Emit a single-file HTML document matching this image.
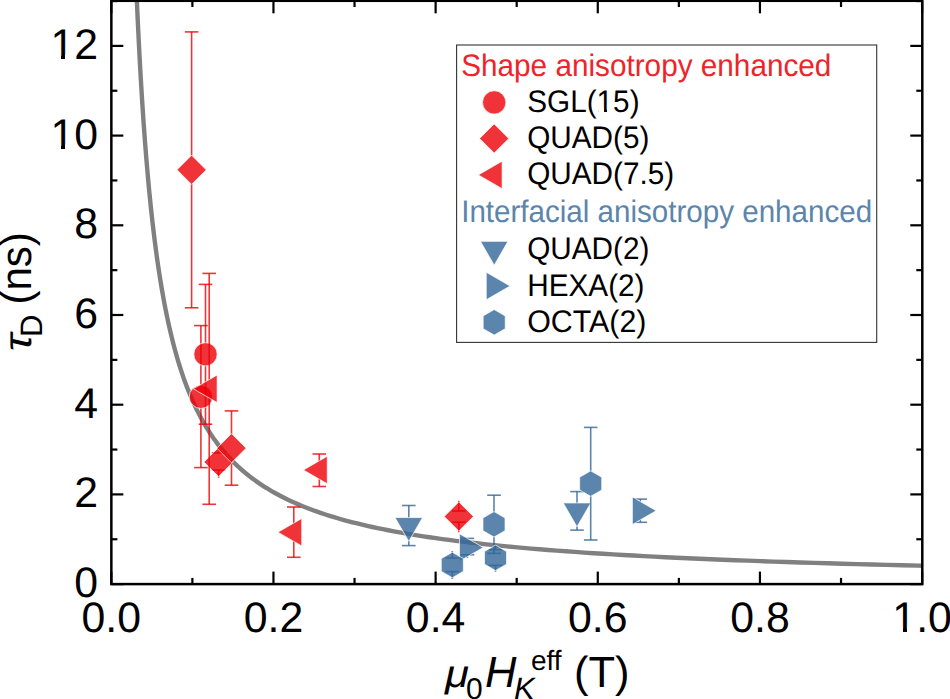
<!DOCTYPE html>
<html><head><meta charset="utf-8"><style>
html,body{margin:0;padding:0;background:#fff;width:950px;height:699px;overflow:hidden}
svg{display:block}
text{font-family:"Liberation Sans",sans-serif}
</style></head><body>
<svg width="950" height="699" viewBox="0 0 950 699">
<rect width="950" height="699" fill="#fff"/>
<defs><clipPath id="pc"><rect x="111.3" y="0" width="811" height="584"/></clipPath></defs>
<path d="M136.29,-12.40 L136.54,-6.50 L136.80,-0.65 L137.05,5.14 L137.31,10.87 L137.57,16.55 L137.83,22.17 L138.10,27.73 L138.37,33.24 L138.64,38.69 L138.91,44.09 L139.19,49.44 L139.46,54.73 L139.75,59.97 L140.03,65.16 L140.32,70.30 L140.61,75.39 L140.90,80.42 L141.20,85.41 L141.50,90.35 L141.80,95.24 L142.10,100.08 L142.41,104.87 L142.72,109.61 L143.04,114.31 L143.35,118.96 L143.67,123.57 L144.00,128.13 L144.33,132.64 L144.66,137.11 L144.99,141.54 L145.33,145.92 L145.67,150.26 L146.01,154.55 L146.36,158.81 L146.71,163.02 L147.06,167.19 L147.42,171.32 L147.78,175.40 L148.15,179.45 L148.51,183.46 L148.89,187.42 L149.26,191.35 L149.64,195.24 L150.02,199.09 L150.41,202.90 L150.80,206.67 L151.20,210.41 L151.60,214.11 L152.00,217.77 L152.41,221.40 L152.82,224.99 L153.23,228.55 L153.65,232.07 L154.08,235.55 L154.50,239.01 L154.94,242.42 L155.37,245.80 L155.81,249.15 L156.26,252.47 L156.71,255.75 L157.16,259.01 L157.62,262.22 L158.08,265.41 L158.55,268.57 L159.02,271.69 L159.50,274.78 L159.98,277.85 L160.47,280.88 L160.96,283.88 L161.46,286.85 L161.96,289.80 L162.47,292.71 L162.98,295.59 L163.49,298.45 L164.02,301.28 L164.54,304.08 L165.08,306.85 L165.61,309.60 L166.16,312.31 L166.71,315.01 L167.26,317.67 L167.82,320.31 L168.38,322.92 L168.96,325.51 L169.53,328.07 L170.11,330.60 L170.70,333.11 L171.30,335.60 L171.90,338.06 L172.50,340.49 L173.11,342.90 L173.73,345.29 L174.36,347.66 L174.99,350.00 L175.62,352.32 L176.27,354.61 L176.92,356.88 L177.57,359.13 L178.24,361.36 L178.91,363.57 L179.58,365.75 L180.26,367.91 L180.95,370.05 L181.65,372.17 L182.35,374.27 L183.06,376.35 L183.78,378.40 L184.51,380.44 L185.24,382.46 L185.98,384.45 L186.73,386.43 L187.48,388.39 L188.24,390.32 L189.01,392.24 L189.79,394.14 L190.57,396.02 L191.37,397.89 L192.17,399.73 L192.98,401.55 L193.79,403.36 L194.62,405.15 L195.45,406.92 L196.29,408.68 L197.14,410.41 L198.00,412.13 L198.87,413.84 L199.74,415.52 L200.63,417.19 L201.52,418.84 L202.42,420.48 L203.33,422.10 L204.25,423.70 L205.18,425.29 L206.12,426.86 L207.07,428.42 L208.03,429.96 L209.00,431.49 L209.97,433.00 L210.96,434.50 L211.96,435.98 L212.96,437.44 L213.98,438.90 L215.01,440.33 L216.04,441.76 L217.09,443.17 L218.15,444.56 L219.22,445.94 L220.30,447.31 L221.39,448.67 L222.49,450.01 L223.60,451.33 L224.72,452.65 L225.86,453.95 L227.00,455.24 L228.16,456.51 L229.33,457.78 L230.51,459.03 L231.70,460.27 L232.90,461.49 L234.12,462.71 L235.35,463.91 L236.59,465.10 L237.84,466.28 L239.11,467.44 L240.38,468.60 L241.67,469.74 L242.98,470.87 L244.30,472.00 L245.63,473.11 L246.97,474.20 L248.33,475.29 L249.70,476.37 L251.08,477.44 L252.48,478.49 L253.89,479.54 L255.32,480.57 L256.76,481.60 L258.21,482.61 L259.68,483.62 L261.16,484.61 L262.66,485.60 L264.17,486.57 L265.70,487.54 L267.25,488.49 L268.81,489.44 L270.38,490.38 L271.97,491.31 L273.58,492.23 L276.83,494.03 L280.14,495.79 L283.51,497.52 L286.96,499.22 L290.47,500.89 L294.05,502.52 L297.71,504.12 L301.44,505.69 L305.24,507.22 L309.12,508.73 L313.07,510.21 L317.11,511.66 L321.23,513.08 L325.42,514.47 L329.71,515.84 L334.08,517.17 L338.53,518.49 L343.08,519.77 L347.71,521.03 L352.44,522.27 L357.26,523.48 L362.18,524.67 L367.20,525.84 L372.32,526.98 L377.54,528.10 L382.86,529.20 L388.29,530.27 L393.83,531.33 L399.48,532.36 L405.25,533.38 L411.13,534.37 L417.12,535.35 L423.24,536.30 L429.48,537.24 L435.84,538.16 L442.33,539.06 L448.95,539.94 L455.71,540.81 L462.59,541.66 L469.62,542.49 L476.79,543.31 L484.10,544.11 L491.55,544.89 L499.16,545.66 L506.91,546.41 L514.83,547.15 L522.90,547.88 L531.13,548.59 L539.53,549.28 L548.09,549.97 L556.83,550.64 L565.74,551.29 L574.83,551.93 L584.10,552.57 L593.55,553.18 L603.20,553.79 L613.03,554.38 L623.07,554.97 L633.30,555.54 L643.74,556.10 L654.39,556.65 L665.26,557.19 L676.33,557.71 L687.64,558.23 L699.16,558.74 L710.92,559.24 L722.91,559.72 L735.14,560.20 L747.62,560.67 L760.35,561.13 L773.33,561.58 L786.57,562.02 L800.07,562.45 L813.85,562.88 L827.90,563.29 L842.23,563.70 L856.85,564.10 L871.76,564.49 L886.97,564.88 L902.48,565.26 L918.31,565.63 L922.10,565.71" fill="none" stroke="#808080" stroke-width="4.4" clip-path="url(#pc)"/>
<line x1="205.50" y1="284.40" x2="205.50" y2="343.10" stroke="rgb(236,0,6)" stroke-opacity="0.8" stroke-width="1.6"/>
<line x1="205.50" y1="365.50" x2="205.50" y2="424.20" stroke="rgb(236,0,6)" stroke-opacity="0.8" stroke-width="1.6"/>
<line x1="198.70" y1="284.40" x2="212.30" y2="284.40" stroke="rgb(236,0,6)" stroke-opacity="0.8" stroke-width="1.6"/>
<line x1="198.70" y1="424.20" x2="212.30" y2="424.20" stroke="rgb(236,0,6)" stroke-opacity="0.8" stroke-width="1.6"/>
<line x1="200.90" y1="325.60" x2="200.90" y2="385.60" stroke="rgb(236,0,6)" stroke-opacity="0.8" stroke-width="1.6"/>
<line x1="200.90" y1="408.00" x2="200.90" y2="467.60" stroke="rgb(236,0,6)" stroke-opacity="0.8" stroke-width="1.6"/>
<line x1="194.10" y1="325.60" x2="207.70" y2="325.60" stroke="rgb(236,0,6)" stroke-opacity="0.8" stroke-width="1.6"/>
<line x1="194.10" y1="467.60" x2="207.70" y2="467.60" stroke="rgb(236,0,6)" stroke-opacity="0.8" stroke-width="1.6"/>
<circle cx="205.50" cy="354.30" r="11.65" fill="rgb(236,0,6)" fill-opacity="0.8" stroke="#fff" stroke-opacity="0.9" stroke-width="0.8"/>
<circle cx="200.90" cy="396.80" r="11.65" fill="rgb(236,0,6)" fill-opacity="0.8" stroke="#fff" stroke-opacity="0.9" stroke-width="0.8"/>
<line x1="191.60" y1="31.90" x2="191.60" y2="155.80" stroke="rgb(236,0,6)" stroke-opacity="0.8" stroke-width="1.6"/>
<line x1="191.60" y1="183.80" x2="191.60" y2="307.80" stroke="rgb(236,0,6)" stroke-opacity="0.8" stroke-width="1.6"/>
<line x1="184.80" y1="31.90" x2="198.40" y2="31.90" stroke="rgb(236,0,6)" stroke-opacity="0.8" stroke-width="1.6"/>
<line x1="184.80" y1="307.80" x2="198.40" y2="307.80" stroke="rgb(236,0,6)" stroke-opacity="0.8" stroke-width="1.6"/>
<line x1="218.60" y1="446.20" x2="218.60" y2="452.90" stroke="rgb(236,0,6)" stroke-opacity="0.8" stroke-width="1.6"/>
<line x1="218.60" y1="470.00" x2="218.60" y2="477.80" stroke="rgb(236,0,6)" stroke-opacity="0.8" stroke-width="1.6"/>
<line x1="211.80" y1="452.90" x2="225.40" y2="452.90" stroke="rgb(236,0,6)" stroke-opacity="0.8" stroke-width="1.6"/>
<line x1="211.80" y1="470.00" x2="225.40" y2="470.00" stroke="rgb(236,0,6)" stroke-opacity="0.8" stroke-width="1.6"/>
<line x1="231.50" y1="410.90" x2="231.50" y2="434.20" stroke="rgb(236,0,6)" stroke-opacity="0.8" stroke-width="1.6"/>
<line x1="231.50" y1="462.20" x2="231.50" y2="485.20" stroke="rgb(236,0,6)" stroke-opacity="0.8" stroke-width="1.6"/>
<line x1="224.70" y1="410.90" x2="238.30" y2="410.90" stroke="rgb(236,0,6)" stroke-opacity="0.8" stroke-width="1.6"/>
<line x1="224.70" y1="485.20" x2="238.30" y2="485.20" stroke="rgb(236,0,6)" stroke-opacity="0.8" stroke-width="1.6"/>
<line x1="458.80" y1="500.70" x2="458.80" y2="511.00" stroke="rgb(236,0,6)" stroke-opacity="0.8" stroke-width="1.6"/>
<line x1="458.80" y1="522.20" x2="458.80" y2="532.30" stroke="rgb(236,0,6)" stroke-opacity="0.8" stroke-width="1.6"/>
<line x1="452.00" y1="511.00" x2="465.60" y2="511.00" stroke="rgb(236,0,6)" stroke-opacity="0.8" stroke-width="1.6"/>
<line x1="452.00" y1="522.20" x2="465.60" y2="522.20" stroke="rgb(236,0,6)" stroke-opacity="0.8" stroke-width="1.6"/>
<polygon points="191.60,155.20 206.20,169.80 191.60,184.40 177.00,169.80" fill="rgb(236,0,6)" fill-opacity="0.8" stroke="#fff" stroke-opacity="0.9" stroke-width="0.8"/>
<polygon points="218.60,447.40 233.20,462.00 218.60,476.60 204.00,462.00" fill="rgb(236,0,6)" fill-opacity="0.8" stroke="#fff" stroke-opacity="0.9" stroke-width="0.8"/>
<polygon points="231.50,433.60 246.10,448.20 231.50,462.80 216.90,448.20" fill="rgb(236,0,6)" fill-opacity="0.8" stroke="#fff" stroke-opacity="0.9" stroke-width="0.8"/>
<polygon points="458.80,501.90 473.40,516.50 458.80,531.10 444.20,516.50" fill="rgb(236,0,6)" fill-opacity="0.8" stroke="#fff" stroke-opacity="0.9" stroke-width="0.8"/>
<line x1="209.20" y1="273.40" x2="209.20" y2="380.15" stroke="rgb(236,0,6)" stroke-opacity="0.8" stroke-width="1.6"/>
<line x1="209.20" y1="397.45" x2="209.20" y2="504.30" stroke="rgb(236,0,6)" stroke-opacity="0.8" stroke-width="1.6"/>
<line x1="202.40" y1="273.40" x2="216.00" y2="273.40" stroke="rgb(236,0,6)" stroke-opacity="0.8" stroke-width="1.6"/>
<line x1="202.40" y1="504.30" x2="216.00" y2="504.30" stroke="rgb(236,0,6)" stroke-opacity="0.8" stroke-width="1.6"/>
<line x1="293.80" y1="507.00" x2="293.80" y2="523.55" stroke="rgb(236,0,6)" stroke-opacity="0.8" stroke-width="1.6"/>
<line x1="293.80" y1="540.86" x2="293.80" y2="557.30" stroke="rgb(236,0,6)" stroke-opacity="0.8" stroke-width="1.6"/>
<line x1="287.00" y1="507.00" x2="300.60" y2="507.00" stroke="rgb(236,0,6)" stroke-opacity="0.8" stroke-width="1.6"/>
<line x1="287.00" y1="557.30" x2="300.60" y2="557.30" stroke="rgb(236,0,6)" stroke-opacity="0.8" stroke-width="1.6"/>
<line x1="319.30" y1="454.00" x2="319.30" y2="461.35" stroke="rgb(236,0,6)" stroke-opacity="0.8" stroke-width="1.6"/>
<line x1="319.30" y1="478.65" x2="319.30" y2="486.50" stroke="rgb(236,0,6)" stroke-opacity="0.8" stroke-width="1.6"/>
<line x1="312.50" y1="454.00" x2="326.10" y2="454.00" stroke="rgb(236,0,6)" stroke-opacity="0.8" stroke-width="1.6"/>
<line x1="312.50" y1="486.50" x2="326.10" y2="486.50" stroke="rgb(236,0,6)" stroke-opacity="0.8" stroke-width="1.6"/>
<polygon points="193.30,388.80 217.15,375.03 217.15,402.57" fill="rgb(236,0,6)" fill-opacity="0.8" stroke="#fff" stroke-opacity="0.9" stroke-width="0.8"/>
<polygon points="277.90,532.20 301.75,518.43 301.75,545.97" fill="rgb(236,0,6)" fill-opacity="0.8" stroke="#fff" stroke-opacity="0.9" stroke-width="0.8"/>
<polygon points="303.40,470.00 327.25,456.23 327.25,483.77" fill="rgb(236,0,6)" fill-opacity="0.8" stroke="#fff" stroke-opacity="0.9" stroke-width="0.8"/>
<line x1="408.80" y1="505.50" x2="408.80" y2="518.00" stroke="rgb(50,103,151)" stroke-opacity="0.8" stroke-width="1.6"/>
<line x1="408.80" y1="540.50" x2="408.80" y2="545.60" stroke="rgb(50,103,151)" stroke-opacity="0.8" stroke-width="1.6"/>
<line x1="402.00" y1="505.50" x2="415.60" y2="505.50" stroke="rgb(50,103,151)" stroke-opacity="0.8" stroke-width="1.6"/>
<line x1="402.00" y1="545.60" x2="415.60" y2="545.60" stroke="rgb(50,103,151)" stroke-opacity="0.8" stroke-width="1.6"/>
<line x1="577.00" y1="491.60" x2="577.00" y2="503.40" stroke="rgb(50,103,151)" stroke-opacity="0.8" stroke-width="1.6"/>
<line x1="577.00" y1="525.90" x2="577.00" y2="530.10" stroke="rgb(50,103,151)" stroke-opacity="0.8" stroke-width="1.6"/>
<line x1="570.20" y1="491.60" x2="583.80" y2="491.60" stroke="rgb(50,103,151)" stroke-opacity="0.8" stroke-width="1.6"/>
<line x1="570.20" y1="530.10" x2="583.80" y2="530.10" stroke="rgb(50,103,151)" stroke-opacity="0.8" stroke-width="1.6"/>
<polygon points="408.80,541.40 395.03,517.55 422.57,517.55" fill="rgb(50,103,151)" fill-opacity="0.8" stroke="#fff" stroke-opacity="0.9" stroke-width="0.8"/>
<polygon points="577.00,526.80 563.23,502.95 590.77,502.95" fill="rgb(50,103,151)" fill-opacity="0.8" stroke="#fff" stroke-opacity="0.9" stroke-width="0.8"/>
<line x1="467.40" y1="538.40" x2="467.40" y2="538.85" stroke="rgb(50,103,151)" stroke-opacity="0.8" stroke-width="1.6"/>
<line x1="467.40" y1="554.80" x2="467.40" y2="557.95" stroke="rgb(50,103,151)" stroke-opacity="0.8" stroke-width="1.6"/>
<line x1="460.60" y1="538.40" x2="474.20" y2="538.40" stroke="rgb(50,103,151)" stroke-opacity="0.8" stroke-width="1.6"/>
<line x1="460.60" y1="554.80" x2="474.20" y2="554.80" stroke="rgb(50,103,151)" stroke-opacity="0.8" stroke-width="1.6"/>
<line x1="640.30" y1="499.10" x2="640.30" y2="502.05" stroke="rgb(50,103,151)" stroke-opacity="0.8" stroke-width="1.6"/>
<line x1="640.30" y1="519.36" x2="640.30" y2="522.30" stroke="rgb(50,103,151)" stroke-opacity="0.8" stroke-width="1.6"/>
<line x1="633.50" y1="499.10" x2="647.10" y2="499.10" stroke="rgb(50,103,151)" stroke-opacity="0.8" stroke-width="1.6"/>
<line x1="633.50" y1="522.30" x2="647.10" y2="522.30" stroke="rgb(50,103,151)" stroke-opacity="0.8" stroke-width="1.6"/>
<polygon points="483.30,547.50 459.45,561.27 459.45,533.73" fill="rgb(50,103,151)" fill-opacity="0.8" stroke="#fff" stroke-opacity="0.9" stroke-width="0.8"/>
<polygon points="656.20,510.70 632.35,524.47 632.35,496.93" fill="rgb(50,103,151)" fill-opacity="0.8" stroke="#fff" stroke-opacity="0.9" stroke-width="0.8"/>
<line x1="452.30" y1="551.00" x2="452.30" y2="558.00" stroke="rgb(50,103,151)" stroke-opacity="0.8" stroke-width="1.6"/>
<line x1="452.30" y1="571.60" x2="452.30" y2="579.00" stroke="rgb(50,103,151)" stroke-opacity="0.8" stroke-width="1.6"/>
<line x1="445.50" y1="558.00" x2="459.10" y2="558.00" stroke="rgb(50,103,151)" stroke-opacity="0.8" stroke-width="1.6"/>
<line x1="445.50" y1="571.60" x2="459.10" y2="571.60" stroke="rgb(50,103,151)" stroke-opacity="0.8" stroke-width="1.6"/>
<line x1="494.00" y1="495.20" x2="494.00" y2="512.10" stroke="rgb(50,103,151)" stroke-opacity="0.8" stroke-width="1.6"/>
<line x1="494.00" y1="536.50" x2="494.00" y2="553.40" stroke="rgb(50,103,151)" stroke-opacity="0.8" stroke-width="1.6"/>
<line x1="487.20" y1="495.20" x2="500.80" y2="495.20" stroke="rgb(50,103,151)" stroke-opacity="0.8" stroke-width="1.6"/>
<line x1="487.20" y1="553.40" x2="500.80" y2="553.40" stroke="rgb(50,103,151)" stroke-opacity="0.8" stroke-width="1.6"/>
<line x1="495.50" y1="543.80" x2="495.50" y2="549.70" stroke="rgb(50,103,151)" stroke-opacity="0.8" stroke-width="1.6"/>
<line x1="495.50" y1="565.40" x2="495.50" y2="571.80" stroke="rgb(50,103,151)" stroke-opacity="0.8" stroke-width="1.6"/>
<line x1="488.70" y1="549.70" x2="502.30" y2="549.70" stroke="rgb(50,103,151)" stroke-opacity="0.8" stroke-width="1.6"/>
<line x1="488.70" y1="565.40" x2="502.30" y2="565.40" stroke="rgb(50,103,151)" stroke-opacity="0.8" stroke-width="1.6"/>
<line x1="590.70" y1="427.40" x2="590.70" y2="471.40" stroke="rgb(50,103,151)" stroke-opacity="0.8" stroke-width="1.6"/>
<line x1="590.70" y1="495.80" x2="590.70" y2="540.00" stroke="rgb(50,103,151)" stroke-opacity="0.8" stroke-width="1.6"/>
<line x1="583.90" y1="427.40" x2="597.50" y2="427.40" stroke="rgb(50,103,151)" stroke-opacity="0.8" stroke-width="1.6"/>
<line x1="583.90" y1="540.00" x2="597.50" y2="540.00" stroke="rgb(50,103,151)" stroke-opacity="0.8" stroke-width="1.6"/>
<polygon points="452.30,552.25 463.34,558.62 463.34,571.38 452.30,577.75 441.26,571.38 441.26,558.62" fill="rgb(50,103,151)" fill-opacity="0.8" stroke="#fff" stroke-opacity="0.9" stroke-width="0.8"/>
<polygon points="494.00,511.55 505.04,517.92 505.04,530.67 494.00,537.05 482.96,530.67 482.96,517.92" fill="rgb(50,103,151)" fill-opacity="0.8" stroke="#fff" stroke-opacity="0.9" stroke-width="0.8"/>
<polygon points="495.50,545.05 506.54,551.42 506.54,564.17 495.50,570.55 484.46,564.17 484.46,551.42" fill="rgb(50,103,151)" fill-opacity="0.8" stroke="#fff" stroke-opacity="0.9" stroke-width="0.8"/>
<polygon points="590.70,470.85 601.74,477.23 601.74,489.98 590.70,496.35 579.66,489.98 579.66,477.23" fill="rgb(50,103,151)" fill-opacity="0.8" stroke="#fff" stroke-opacity="0.9" stroke-width="0.8"/>
<rect x="111.35" y="0.8" width="810.95" height="583.3" fill="none" stroke="#000" stroke-width="2.5"/>
<g stroke="#000" stroke-width="2.2">
<line x1="111.30" y1="584.1" x2="111.30" y2="571.60"/>
<line x1="111.30" y1="0.8" x2="111.30" y2="13.30"/>
<line x1="192.38" y1="584.1" x2="192.38" y2="577.90"/>
<line x1="192.38" y1="0.8" x2="192.38" y2="7.00"/>
<line x1="273.46" y1="584.1" x2="273.46" y2="571.60"/>
<line x1="273.46" y1="0.8" x2="273.46" y2="13.30"/>
<line x1="354.54" y1="584.1" x2="354.54" y2="577.90"/>
<line x1="354.54" y1="0.8" x2="354.54" y2="7.00"/>
<line x1="435.62" y1="584.1" x2="435.62" y2="571.60"/>
<line x1="435.62" y1="0.8" x2="435.62" y2="13.30"/>
<line x1="516.70" y1="584.1" x2="516.70" y2="577.90"/>
<line x1="516.70" y1="0.8" x2="516.70" y2="7.00"/>
<line x1="597.78" y1="584.1" x2="597.78" y2="571.60"/>
<line x1="597.78" y1="0.8" x2="597.78" y2="13.30"/>
<line x1="678.86" y1="584.1" x2="678.86" y2="577.90"/>
<line x1="678.86" y1="0.8" x2="678.86" y2="7.00"/>
<line x1="759.94" y1="584.1" x2="759.94" y2="571.60"/>
<line x1="759.94" y1="0.8" x2="759.94" y2="13.30"/>
<line x1="841.02" y1="584.1" x2="841.02" y2="577.90"/>
<line x1="841.02" y1="0.8" x2="841.02" y2="7.00"/>
<line x1="922.10" y1="584.1" x2="922.10" y2="571.60"/>
<line x1="922.10" y1="0.8" x2="922.10" y2="13.30"/>
<line x1="111.35" y1="584.10" x2="123.35" y2="584.10"/>
<line x1="922.3" y1="584.10" x2="910.30" y2="584.10"/>
<line x1="111.35" y1="539.25" x2="117.35" y2="539.25"/>
<line x1="922.3" y1="539.25" x2="916.30" y2="539.25"/>
<line x1="111.35" y1="494.40" x2="123.35" y2="494.40"/>
<line x1="922.3" y1="494.40" x2="910.30" y2="494.40"/>
<line x1="111.35" y1="449.55" x2="117.35" y2="449.55"/>
<line x1="922.3" y1="449.55" x2="916.30" y2="449.55"/>
<line x1="111.35" y1="404.70" x2="123.35" y2="404.70"/>
<line x1="922.3" y1="404.70" x2="910.30" y2="404.70"/>
<line x1="111.35" y1="359.85" x2="117.35" y2="359.85"/>
<line x1="922.3" y1="359.85" x2="916.30" y2="359.85"/>
<line x1="111.35" y1="315.00" x2="123.35" y2="315.00"/>
<line x1="922.3" y1="315.00" x2="910.30" y2="315.00"/>
<line x1="111.35" y1="270.15" x2="117.35" y2="270.15"/>
<line x1="922.3" y1="270.15" x2="916.30" y2="270.15"/>
<line x1="111.35" y1="225.30" x2="123.35" y2="225.30"/>
<line x1="922.3" y1="225.30" x2="910.30" y2="225.30"/>
<line x1="111.35" y1="180.45" x2="117.35" y2="180.45"/>
<line x1="922.3" y1="180.45" x2="916.30" y2="180.45"/>
<line x1="111.35" y1="135.60" x2="123.35" y2="135.60"/>
<line x1="922.3" y1="135.60" x2="910.30" y2="135.60"/>
<line x1="111.35" y1="90.75" x2="117.35" y2="90.75"/>
<line x1="922.3" y1="90.75" x2="916.30" y2="90.75"/>
<line x1="111.35" y1="45.90" x2="123.35" y2="45.90"/>
<line x1="922.3" y1="45.90" x2="910.30" y2="45.90"/>
<line x1="111.35" y1="1.05" x2="117.35" y2="1.05"/>
<line x1="922.3" y1="1.05" x2="916.30" y2="1.05"/>
</g>
<g font-family="Liberation Sans" text-rendering="geometricPrecision" font-size="42.8" fill="#000">
<text x="98.0" y="597.10" text-anchor="end">0</text>
<text x="98.0" y="507.40" text-anchor="end">2</text>
<text x="98.0" y="417.70" text-anchor="end">4</text>
<text x="98.0" y="328.00" text-anchor="end">6</text>
<text x="98.0" y="238.30" text-anchor="end">8</text>
<text x="98.0" y="148.60" text-anchor="end">10</text>
<text x="98.0" y="58.90" text-anchor="end">12</text>
<text x="111.30" y="631.5" text-anchor="middle">0.0</text>
<text x="273.46" y="631.5" text-anchor="middle">0.2</text>
<text x="435.62" y="631.5" text-anchor="middle">0.4</text>
<text x="597.78" y="631.5" text-anchor="middle">0.6</text>
<text x="759.94" y="631.5" text-anchor="middle">0.8</text>
<text x="922.10" y="631.5" text-anchor="middle">1.0</text>
</g>
<rect x="53" y="144.50" width="8" height="4.8" fill="#fff"/>
<rect x="65" y="144.50" width="9" height="4.8" fill="#fff"/>
<rect x="53" y="54.80" width="8" height="4.8" fill="#fff"/>
<rect x="65" y="54.80" width="9" height="4.8" fill="#fff"/>
<rect x="894.5" y="627.40" width="8.5" height="4.8" fill="#fff"/>
<rect x="907" y="627.40" width="8" height="4.8" fill="#fff"/>
<g font-family="Liberation Sans" text-rendering="geometricPrecision" fill="#000">
<text transform="translate(445,687.2) scale(1.12,1)" font-size="39" font-style="italic">μ</text>
<text x="466" y="699" font-size="30">0</text>
<text x="485" y="687.2" font-size="43.5" font-style="italic">H</text>
<text x="514" y="699.3" font-size="31" font-style="italic">K</text>
<text x="531" y="670.2" font-size="28">eff</text>
<text x="574" y="687.2" font-size="43.5">(T)</text>
<g transform="translate(31,0) rotate(-90)">
<text transform="translate(-351.3,0) scale(1.2,1)" font-size="39" font-style="italic">τ</text>
<text x="-337" y="11" font-size="31">D</text>
<text transform="translate(-304.6,0) scale(0.967,1)" font-size="43.5">(ns)</text>
</g>
</g>
<rect x="456.6" y="45.0" width="420.1" height="297.4" fill="none" stroke="#333" stroke-width="1.1"/>
<text transform="translate(461.2,76.0) scale(0.953,1)" font-family="Liberation Sans" text-rendering="geometricPrecision" font-size="31.2" fill="rgb(238,36,42)">Shape anisotropy enhanced</text>
<circle cx="494.20" cy="102.40" r="11.65" fill="rgb(236,0,6)" fill-opacity="0.8" stroke="#fff" stroke-opacity="0.9" stroke-width="0.8"/>
<text transform="translate(527.2,111.9) scale(0.953,1)" font-family="Liberation Sans" text-rendering="geometricPrecision" font-size="31.2" fill="#000">SGL(15)</text>
<polygon points="494.20,123.90 508.80,138.50 494.20,153.10 479.60,138.50" fill="rgb(236,0,6)" fill-opacity="0.8" stroke="#fff" stroke-opacity="0.9" stroke-width="0.8"/>
<text transform="translate(527.2,148.0) scale(0.953,1)" font-family="Liberation Sans" text-rendering="geometricPrecision" font-size="31.2" fill="#000">QUAD(5)</text>
<polygon points="478.30,174.90 502.15,161.13 502.15,188.67" fill="rgb(236,0,6)" fill-opacity="0.8" stroke="#fff" stroke-opacity="0.9" stroke-width="0.8"/>
<text transform="translate(527.2,184.4) scale(0.953,1)" font-family="Liberation Sans" text-rendering="geometricPrecision" font-size="31.2" fill="#000">QUAD(7.5)</text>
<text transform="translate(461.2,222.2) scale(0.948,1)" font-family="Liberation Sans" text-rendering="geometricPrecision" font-size="31.2" fill="rgb(91,133,172)">Interfacial anisotropy enhanced</text>
<polygon points="494.20,265.20 480.43,241.35 507.97,241.35" fill="rgb(50,103,151)" fill-opacity="0.8" stroke="#fff" stroke-opacity="0.9" stroke-width="0.8"/>
<text transform="translate(527.2,258.8) scale(0.953,1)" font-family="Liberation Sans" text-rendering="geometricPrecision" font-size="31.2" fill="#000">QUAD(2)</text>
<polygon points="510.10,286.00 486.25,299.77 486.25,272.23" fill="rgb(50,103,151)" fill-opacity="0.8" stroke="#fff" stroke-opacity="0.9" stroke-width="0.8"/>
<text transform="translate(527.2,295.5) scale(0.953,1)" font-family="Liberation Sans" text-rendering="geometricPrecision" font-size="31.2" fill="#000">HEXA(2)</text>
<polygon points="494.20,309.55 505.24,315.93 505.24,328.68 494.20,335.05 483.16,328.68 483.16,315.93" fill="rgb(50,103,151)" fill-opacity="0.8" stroke="#fff" stroke-opacity="0.9" stroke-width="0.8"/>
<text transform="translate(527.2,331.8) scale(0.974,1)" font-family="Liberation Sans" text-rendering="geometricPrecision" font-size="31.2" fill="#000">OCTA(2)</text>
<rect x="598.5" y="108.5" width="5.5" height="3.6" fill="#fff"/>
<rect x="607" y="108.5" width="5.5" height="3.6" fill="#fff"/>
</svg>
</body></html>
